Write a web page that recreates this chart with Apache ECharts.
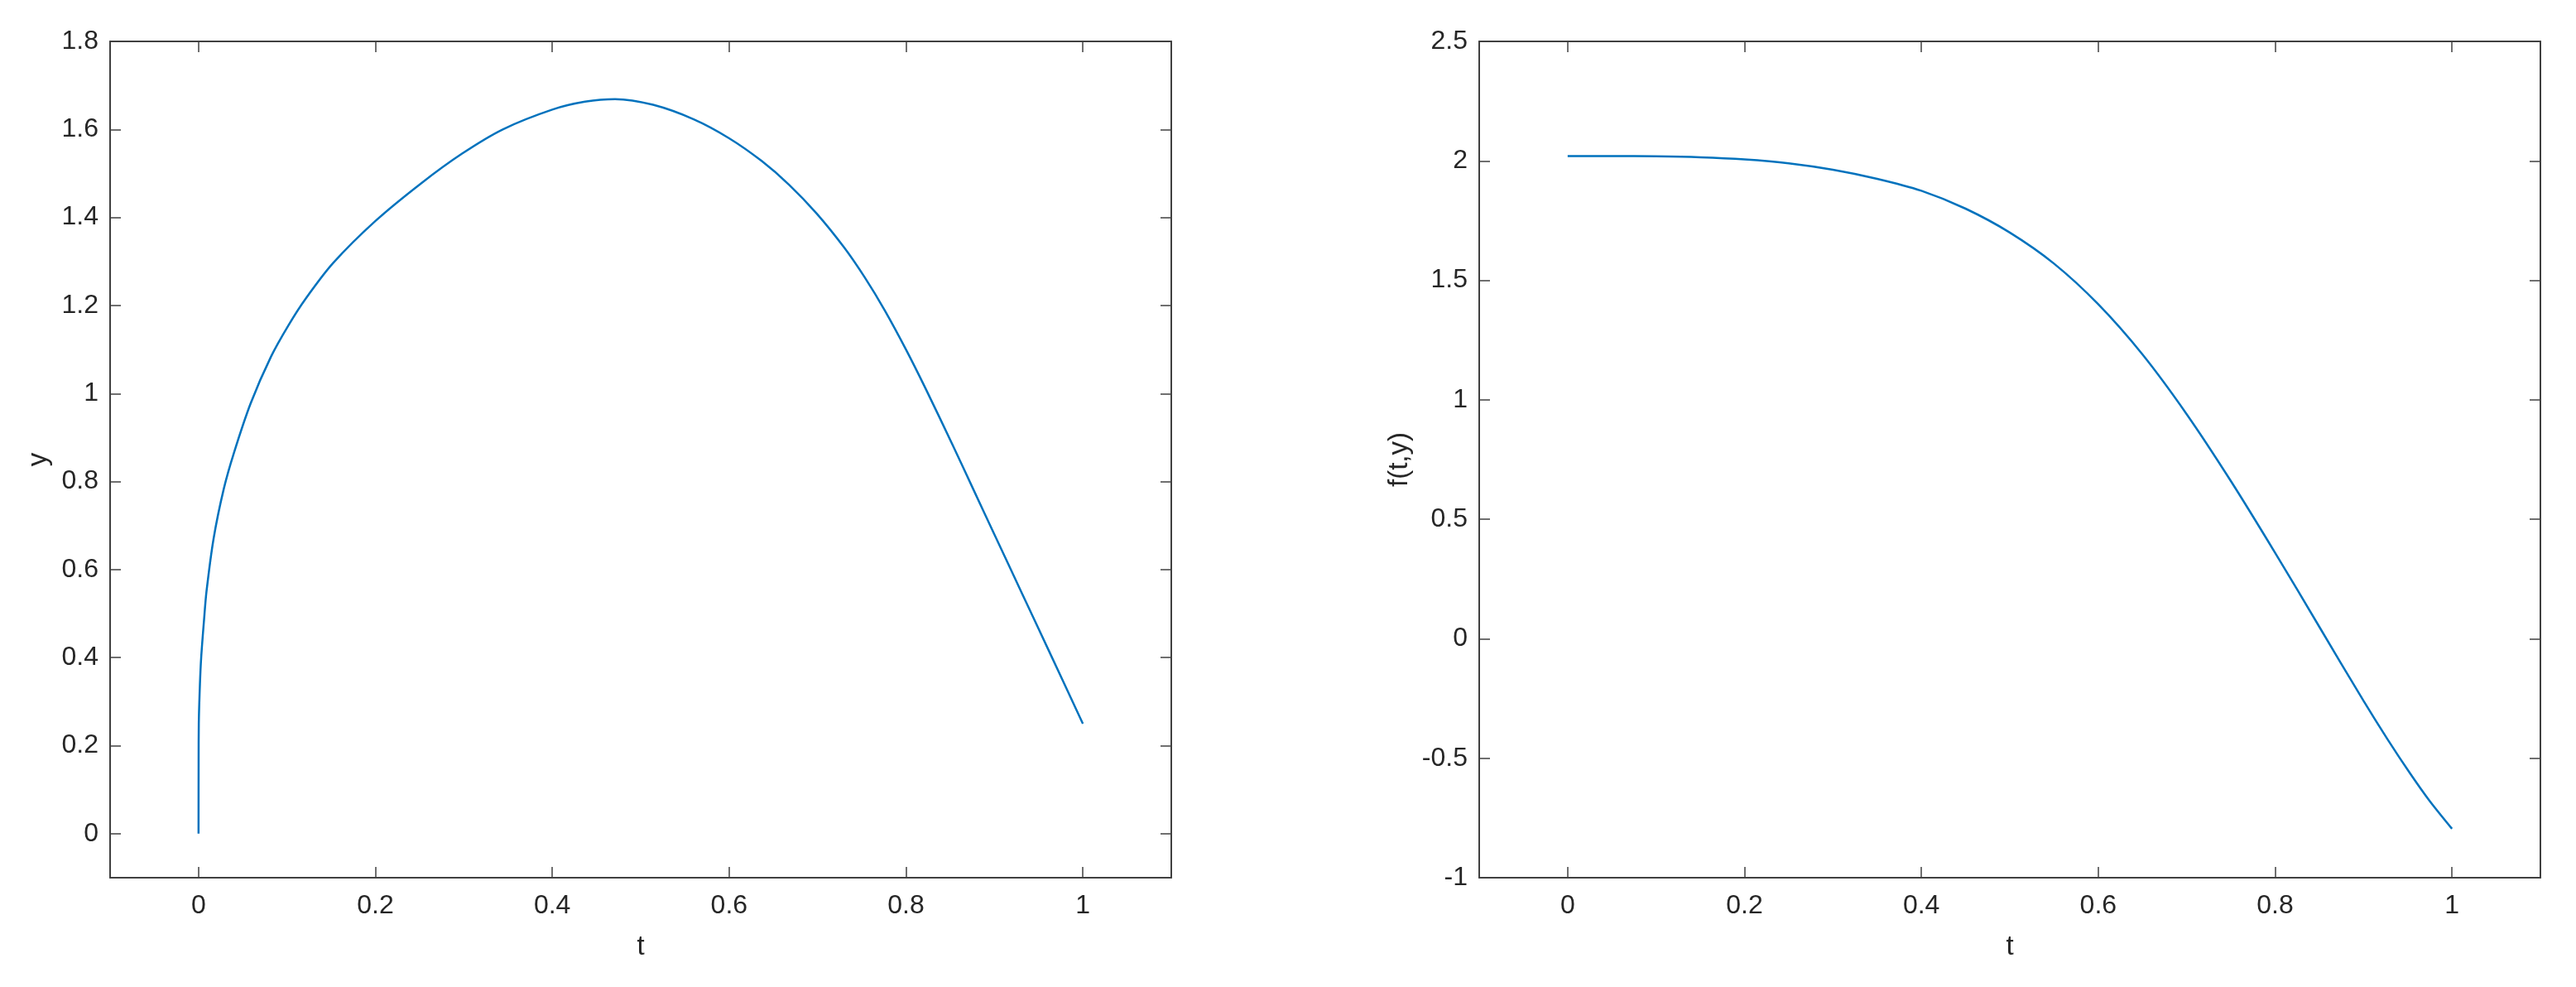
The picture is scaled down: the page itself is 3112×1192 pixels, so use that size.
<!DOCTYPE html>
<html>
<head>
<meta charset="utf-8">
<title>y and f(t,y)</title>
<script src="https://cdn.jsdelivr.net/npm/echarts@6/dist/echarts.min.js"></script>
<style>
  html, body { margin: 0; padding: 0; background: #fff; }
  #chart { width: 3112px; height: 1192px; }
</style>
</head>
<body>
<div id="chart"></div>
<script>
// left panel: solution y(t)
const tLeft = [0, 0.0001, 0.0003, 0.0016, 0.003, 0.0062, 0.009, 0.017, 0.0285, 0.04, 0.059, 0.082, 0.102, 0.121, 0.152,
  0.2, 0.252, 0.298, 0.344, 0.4, 0.437, 0.471, 0.514, 0.56, 0.6, 0.637, 0.668, 0.699, 0.73, 0.753, 0.776,
  0.8, 0.822, 0.853, 0.876, 0.899, 0.93, 0.961, 1];
const yLeft = [0, 0.16, 0.25, 0.34, 0.40, 0.485, 0.55, 0.67, 0.783, 0.865, 0.978, 1.084, 1.156, 1.215, 1.296,
  1.392, 1.478, 1.545, 1.6, 1.645, 1.663, 1.669, 1.656, 1.623, 1.58, 1.528, 1.474, 1.409, 1.332, 1.265, 1.189,
  1.1, 1.012, 0.882, 0.783, 0.684, 0.551, 0.418, 0.25];

// right panel: f(t,y)
const tRight = [0, 0.05, 0.1, 0.15, 0.2, 0.25, 0.3, 0.35, 0.4, 0.45, 0.5, 0.55, 0.6, 0.65, 0.7, 0.75, 0.8, 0.85,
  0.9, 0.927, 0.952, 0.974, 1];
const fRight = [2.02, 2.02, 2.019, 2.015, 2.006, 1.99, 1.963, 1.925, 1.875, 1.8, 1.7, 1.57, 1.4, 1.19,
  0.94, 0.66, 0.36, 0.05, -0.26, -0.42, -0.56, -0.675, -0.795];

const xTicks = [0, 0.2, 0.4, 0.6, 0.8, 1];
const yTicksLeft = [0, 0.2, 0.4, 0.6, 0.8, 1, 1.2, 1.4, 1.6, 1.8];
const yTicksRight = [-1, -0.5, 0, 0.5, 1, 1.5, 2, 2.5];

const FONT = "'Liberation Sans', Arial, Helvetica, sans-serif";
const TXT = "#262626";
const AX = "#404040";

function fmt(v) {
  return String(Math.round(v * 10) / 10);
}

function mainAxis(grid, pos, min, max, ticks, name, gap) {
  return {
    type: "value",
    gridIndex: grid,
    position: pos,
    min: min,
    max: max,
    name: name,
    nameLocation: "middle",
    nameGap: gap,
    nameTextStyle: { color: TXT, fontSize: 33, fontFamily: FONT },
    axisLine: { show: true, onZero: false, lineStyle: { color: AX, width: 2 } },
    axisTick: { show: true, inside: true, length: 13, customValues: ticks, lineStyle: { color: AX, width: 1.5 } },
    axisLabel: {
      show: true, customValues: ticks, formatter: fmt, margin: pos === "bottom" ? 18 : 14,
      color: TXT, fontSize: 32, fontFamily: FONT
    },
    splitLine: { show: false }
  };
}

function boxAxis(grid, pos, min, max, ticks) {
  return {
    type: "value",
    gridIndex: grid,
    position: pos,
    min: min,
    max: max,
    axisLine: { show: true, onZero: false, lineStyle: { color: AX, width: 2 } },
    axisTick: { show: true, inside: true, length: 13, customValues: ticks, lineStyle: { color: AX, width: 1.5 } },
    axisLabel: { show: false },
    splitLine: { show: false }
  };
}

const chart = echarts.init(document.getElementById("chart"));
chart.setOption({
  animation: false,
  backgroundColor: "#ffffff",
  grid: [
    { left: 133, top: 50, width: 1282, height: 1010 },
    { left: 1787, top: 50, width: 1282, height: 1010 }
  ],
  xAxis: [
    mainAxis(0, "bottom", -0.1, 1.1, xTicks, "t", 67),
    boxAxis(0, "top", -0.1, 1.1, xTicks),
    mainAxis(1, "bottom", -0.1, 1.1, xTicks, "t", 67),
    boxAxis(1, "top", -0.1, 1.1, xTicks)
  ],
  yAxis: [
    mainAxis(0, "left", -0.1, 1.8, yTicksLeft, "y", 70),
    boxAxis(0, "right", -0.1, 1.8, yTicksLeft),
    mainAxis(1, "left", -1, 2.5, yTicksRight, "f(t,y)", 80),
    boxAxis(1, "right", -1, 2.5, yTicksRight)
  ],
  series: [
    {
      type: "line",
      xAxisIndex: 0,
      yAxisIndex: 0,
      data: tLeft.map((t, i) => [t, yLeft[i]]),
      showSymbol: false,
      smooth: 0.3,
      lineStyle: { color: "#0072BD", width: 2.5 }
    },
    {
      type: "line",
      xAxisIndex: 2,
      yAxisIndex: 2,
      data: tRight.map((t, i) => [t, fRight[i]]),
      showSymbol: false,
      smooth: 0.3,
      lineStyle: { color: "#0072BD", width: 2.5 }
    }
  ]
});
</script>
</body>
</html>
